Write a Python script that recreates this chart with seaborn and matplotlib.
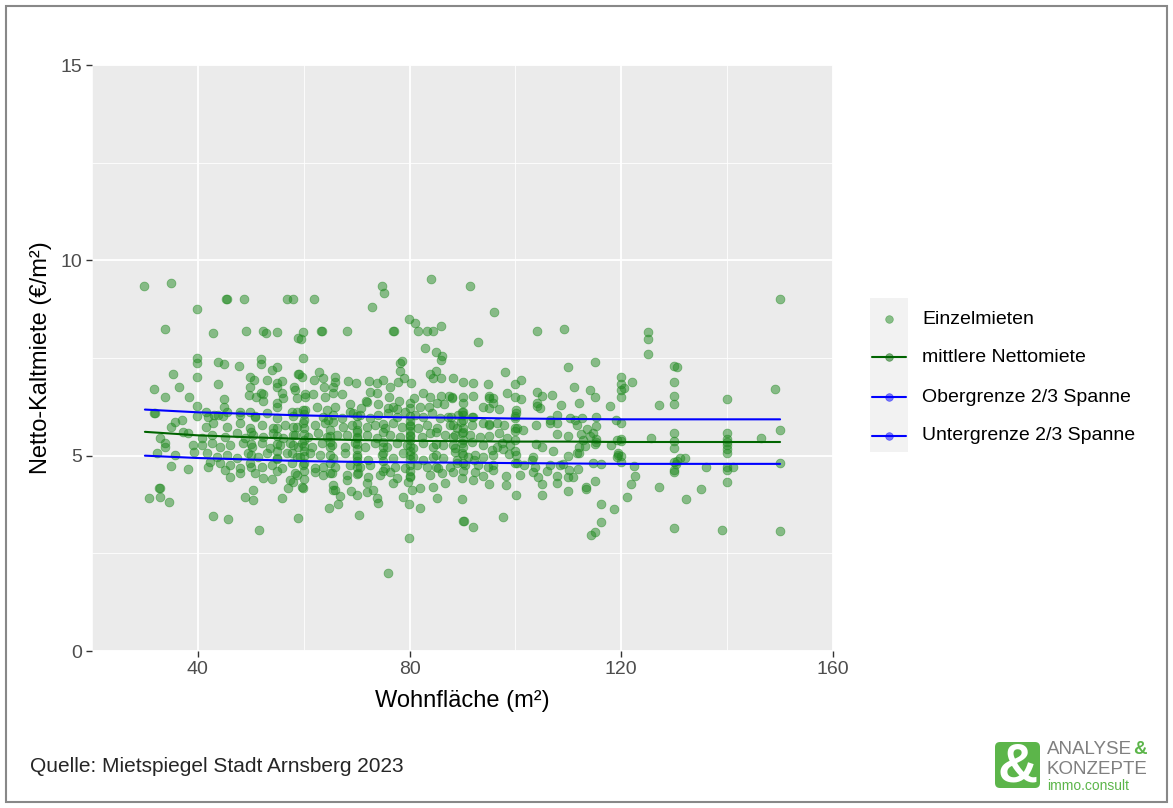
import numpy as np
import pandas as pd
import matplotlib
matplotlib.use("Agg")
import matplotlib.pyplot as plt
import seaborn as sns
from matplotlib.lines import Line2D
from matplotlib.patches import Rectangle, FancyBboxPatch

# --- Einzelmieten (Wohnflaeche in m², Netto-Kaltmiete in EUR/m²) ---
oben_x = [29.8, 34.9, 39.8, 33.8, 42.9, 45.3, 45.6, 48.7, 56.8, 58.0, 49.1, 52.3, 52.9, 55.0, 58.9,
          61.9, 74.8, 75.2, 84.0, 72.9, 59.9, 59.5, 63.3, 63.5, 68.2, 76.9, 77.0, 79.9, 81.0, 81.6,
          83.3, 84.4, 86.0, 82.9, 85.0, 86.1, 86.0, 59.9, 39.8, 39.8, 78.2, 78.6, 91.4, 95.9, 92.9,
          104.1, 109.2, 109.9, 115.0, 125.1, 125.1, 125.1, 130.0, 130.5, 150.0]
oben_y = [9.34, 9.42, 8.75, 8.24, 8.14, 9.0, 9.0, 9.0, 9.0, 9.0, 8.2, 8.2, 8.15, 8.17, 8.01,
          9.0, 9.34, 9.16, 9.52, 8.8, 8.17, 7.99, 8.2, 8.2, 8.2, 8.2, 8.2, 8.5, 8.4, 8.2,
          8.2, 8.2, 8.32, 7.76, 7.65, 7.55, 7.45, 7.5, 7.5, 7.37, 7.37, 7.42, 9.34, 8.68, 7.91,
          8.19, 8.24, 7.27, 7.40, 8.17, 7.99, 7.6, 7.29, 7.27, 9.0]

mitte_x = [43.8, 44.9, 47.8, 51.9, 51.9, 35.3, 39.8, 43.8, 49.9, 50.6, 53.1, 54.0, 55.0, 55.0, 55.9,
           58.2, 58.9, 31.7, 36.4, 33.8, 38.3, 49.9, 49.7, 51.0, 51.9, 52.3, 52.3, 55.0, 55.9, 56.1,
           58.7, 44.9, 39.8, 44.9, 55.0, 55.0, 31.7, 41.5, 48.0, 49.9, 43.1, 44.8, 50.8, 57.8, 59.1,
           59.7, 62.9, 65.9, 65.9, 61.9, 63.6, 68.4, 69.9, 72.3, 73.8, 75.0, 76.3, 77.8, 78.9, 80.3,
           58.4, 60.2, 61.8, 63.8, 64.0, 65.5, 65.5, 67.2, 60.2, 72.5, 73.8, 76.1, 71.8, 72.0, 74.0,
           76.9, 78.0, 80.8, 82.5, 83.9, 86.0, 87.4, 88.0, 86.5, 85.2, 82.0, 83.7, 62.5, 64.4, 65.9,
           68.7, 70.8, 75.9, 77.6, 59.9, 69.3, 83.9, 85.0, 84.4, 86.0, 78.2, 88.2, 90.1, 92.0, 94.8,
           98.0, 101.0, 100.0, 98.4, 100.0, 101.0, 95.0, 95.0, 95.8, 95.8, 93.9, 95.0, 96.9, 90.1, 90.1,
           90.1, 90.1, 92.0, 88.0, 92.0, 104.1, 105.0, 104.1, 104.1, 104.6, 106.9, 108.6, 111.1, 114.1, 115.0,
           112.0, 117.9, 120.0, 120.0, 120.0, 120.0, 120.6, 122.0, 127.1, 130.0, 130.0, 130.0, 140.0, 149.0]
mitte_y = [7.40, 7.35, 7.29, 7.47, 7.35, 7.09, 7.01, 6.83, 7.01, 6.94, 6.94, 7.19, 7.27, 6.86, 6.91,
           6.76, 7.09, 6.71, 6.76, 6.50, 6.50, 6.76, 6.55, 6.50, 6.60, 6.58, 6.40, 6.76, 6.60, 6.48,
           6.48, 6.45, 6.27, 6.25, 6.35, 6.25, 6.09, 6.12, 6.12, 6.12, 6.04, 6.01, 6.01, 6.12, 7.09,
           7.01, 7.14, 7.01, 6.89, 6.94, 6.99, 6.91, 6.86, 6.91, 6.86, 6.94, 6.76, 6.89, 6.99, 6.86,
           6.68, 6.58, 6.58, 6.76, 6.50, 6.76, 6.60, 6.58, 6.50, 6.63, 6.60, 6.50, 6.40, 6.37, 6.32,
           6.25, 6.40, 6.48, 6.60, 6.50, 6.53, 6.53, 6.48, 6.32, 6.35, 6.25, 6.25, 6.25, 6.17, 6.25,
           6.32, 6.22, 6.22, 6.19, 6.17, 6.09, 7.09, 7.17, 6.99, 6.99, 7.17, 6.99, 6.89, 6.86, 6.83,
           7.14, 6.94, 6.83, 6.60, 6.50, 6.45, 6.53, 6.48, 6.48, 6.35, 6.25, 6.22, 6.19, 6.50, 6.35,
           6.12, 6.04, 6.53, 6.50, 5.99, 6.63, 6.53, 6.35, 6.27, 6.22, 6.55, 6.30, 6.76, 6.68, 6.50,
           6.35, 6.27, 7.01, 6.83, 6.68, 6.50, 6.73, 6.88, 6.30, 6.88, 6.53, 6.32, 6.45, 6.71]

kern_links_x = [31.9, 39.8, 41.9, 43.8, 45.5, 48.0, 50.8, 53.1, 55.0, 58.0,
                35.7, 37.0, 34.9, 41.5, 42.9, 45.5, 48.0, 49.9, 52.1, 54.2, 56.5, 58.7,
                37.2, 38.1, 40.8, 42.7, 45.1, 47.4, 48.9, 50.4, 52.3, 54.2, 56.1, 58.0,
                32.8, 33.8, 39.1, 40.8, 42.7, 44.2, 46.1, 48.5, 50.2, 52.1, 53.6, 55.5, 57.4, 58.9,
                32.3, 33.8, 35.7, 39.3, 41.7, 43.6, 45.5, 47.4, 49.5, 51.4, 53.1, 55.0, 56.8, 58.7,
                34.9, 38.1, 41.9, 44.2, 46.1, 48.0, 49.9, 52.1, 54.0, 55.9, 57.8,
                45.1, 46.1, 48.0, 50.8, 52.3, 54.0, 57.4, 58.7, 42.3]
kern_links_y = [6.09, 6.01, 5.99, 6.04, 6.12, 6.04, 5.99, 6.09, 5.97, 6.01,
                5.86, 5.91, 5.73, 5.73, 5.84, 5.73, 5.84, 5.71, 5.78, 5.71, 5.78, 5.73,
                5.60, 5.58, 5.45, 5.53, 5.48, 5.58, 5.45, 5.53, 5.48, 5.58, 5.45, 5.53,
                5.45, 5.32, 5.27, 5.27, 5.32, 5.22, 5.27, 5.32, 5.22, 5.32, 5.20, 5.27, 5.32, 5.22,
                5.07, 5.22, 5.02, 5.09, 5.07, 4.97, 5.02, 4.94, 5.07, 4.97, 5.07, 4.94, 5.07, 4.97,
                4.74, 4.66, 4.71, 4.81, 4.76, 4.68, 4.81, 4.71, 4.76, 4.68, 4.81,
                4.63, 4.45, 4.56, 4.56, 4.43, 4.40, 4.38, 4.50, 4.84]

kern_mitte_x = [58.7, 60.2, 63.6, 64.6, 65.5, 67.2, 68.7, 70.6, 72.5, 74.0, 75.9, 77.6, 79.1, 81.0, 82.5, 84.2, 85.7, 87.2, 89.1,
                58.0, 59.9, 62.1, 64.0, 65.5, 67.4, 69.1, 70.1, 72.0, 73.5, 75.4, 76.9, 78.6, 80.1, 81.6, 83.3, 85.2, 87.6, 89.0,
                58.4, 60.8, 62.7, 64.4, 66.3, 68.2, 70.1, 72.0, 73.8, 76.3, 78.2, 80.1, 82.3, 83.9, 86.7, 88.2,
                58.0, 59.7, 61.6, 63.5, 65.3, 67.8, 69.7, 71.6, 73.5, 75.7, 77.6, 79.5, 80.6, 82.5, 84.4, 86.3, 88.6,
                57.8, 59.3, 61.2, 63.1, 65.5, 67.8, 70.1, 72.1, 74.8, 76.9, 78.8, 80.6, 82.5, 84.4, 86.3, 89.0,
                59.9, 62.1, 63.6, 65.9, 68.7, 70.6, 72.5, 75.4, 77.2, 79.1, 81.4, 83.3, 85.4, 87.6,
                58.4, 62.1, 63.6, 65.3, 68.2, 70.3, 72.1, 74.4, 76.3, 77.6, 80.1, 83.9, 86.1, 88.2,
                58.0, 59.7, 65.5, 65.9, 68.2, 72.0, 73.1, 76.9, 79.7, 80.5, 82.0, 84.4, 86.7]
kern_mitte_y = [6.12, 6.17, 5.99, 5.91, 6.04, 5.96, 6.12, 6.04, 5.96, 6.04, 6.09, 5.99, 6.12, 6.04, 5.99, 6.09, 5.96, 5.99, 6.04,
                5.73, 5.84, 5.78, 5.84, 5.86, 5.73, 5.78, 5.66, 5.73, 5.78, 5.71, 5.84, 5.73, 5.78, 5.71, 5.78, 5.71, 5.78, 5.71,
                5.53, 5.48, 5.58, 5.48, 5.53, 5.53, 5.48, 5.53, 5.45, 5.53, 5.48, 5.53, 5.48, 5.58, 5.53, 5.48,
                5.27, 5.32, 5.22, 5.32, 5.27, 5.22, 5.32, 5.22, 5.32, 5.22, 5.32, 5.27, 5.20, 5.32, 5.22, 5.27, 5.20,
                5.07, 4.97, 5.07, 5.02, 4.94, 5.07, 4.97, 4.89, 5.02, 4.94, 5.07, 4.97, 4.89, 4.97, 4.94, 4.89,
                4.76, 4.68, 4.71, 4.71, 4.76, 4.71, 4.76, 4.68, 4.71, 4.68, 4.76, 4.71, 4.68, 4.71,
                4.56, 4.58, 4.50, 4.56, 4.50, 4.56, 4.45, 4.50, 4.58, 4.43, 4.45, 4.50, 4.56, 4.58,
                4.33, 4.20, 4.25, 4.12, 4.38, 4.30, 4.12, 4.30, 4.33, 4.12, 4.17, 4.20, 4.30]

kern_rechts_x = [87.9, 89.9, 91.8, 89.7, 88.2, 90.1, 91.8, 93.9, 95.0, 95.0, 96.6,
                 88.6, 89.9, 91.4, 93.3, 95.0, 96.9, 88.2, 89.9, 91.8, 93.9, 95.6, 96.6,
                 88.6, 89.9, 91.0, 92.4, 93.9, 95.8, 89.0, 90.5, 92.2, 92.9, 94.8, 95.8,
                 89.9, 92.0, 92.4, 93.9, 95.8, 95.0,
                 98.2, 98.2, 100.9, 105.0, 104.3, 107.9, 107.9, 109.9, 110.9, 103.3, 106.0, 103.7, 103.1,
                 106.5, 108.4, 110.1, 111.8, 111.6, 109.9, 109.0, 107.1, 105.0, 103.9, 103.3, 101.6, 100.3,
                 100.1, 98.8, 97.7, 113.1, 115.0, 114.1, 114.6, 113.5, 115.2, 115.2, 115.2, 119.4, 112.4,
                 112.7, 112.0, 112.0, 109.9, 114.6, 116.2, 106.5, 107.9, 107.9, 106.5, 103.9, 107.9, 101.4,
                 99.9, 100.3, 99.9, 100.1, 100.1, 97.8, 97.5, 99.0, 98.4, 110.3, 111.3, 112.6, 115.2,
                 111.6, 119.2, 119.2, 119.0,
                 120.0, 125.6, 120.0, 120.0, 118.1, 119.4, 120.0, 120.0, 122.4, 130.0, 130.0, 130.0, 130.0,
                 130.4, 130.5, 131.1, 132.0, 130.0, 130.0, 136.0, 140.0, 140.0, 140.0, 140.0, 140.0, 140.0,
                 140.0, 140.0, 141.1, 146.4, 150.0, 150.0]
kern_rechts_y = [5.99, 6.12, 5.99, 5.86, 5.78, 5.71, 5.78, 5.84, 5.78, 5.80, 5.84,
                 5.53, 5.58, 5.53, 5.48, 5.50, 5.58, 5.27, 5.32, 5.35, 5.27, 5.14, 5.22,
                 5.09, 5.07, 4.97, 5.02, 4.97, 5.02, 4.81, 4.76, 4.89, 4.76, 4.71, 4.76,
                 4.43, 4.38, 4.58, 4.48, 4.63, 4.27,
                 4.48, 4.25, 4.50, 4.27, 4.45, 4.30, 4.48, 4.45, 4.45, 4.58, 4.61, 4.71, 4.89,
                 4.76, 4.76, 4.63, 4.66, 5.07, 4.99, 4.79, 5.12, 5.22, 5.30, 4.97, 4.76, 4.81,
                 5.02, 5.04, 5.17, 5.25, 5.30, 5.50, 5.58, 5.68, 5.76, 5.43, 5.35, 5.07, 5.55,
                 5.40, 5.22, 5.07, 5.50, 4.81, 4.79, 5.91, 6.04, 5.84, 5.84, 5.78, 5.55, 5.66,
                 5.63, 5.71, 5.96, 6.09, 6.17, 5.78, 5.32, 5.27, 5.45, 5.96, 5.91, 5.96, 5.99,
                 5.78, 4.97, 5.40, 5.91,
                 5.84, 5.45, 5.42, 5.37, 5.27, 5.02, 4.99, 4.84, 4.74, 5.58, 5.37, 5.20, 4.84,
                 4.79, 4.86, 4.94, 4.94, 4.63, 4.58, 4.71, 5.58, 5.42, 5.35, 5.27, 5.17, 5.07,
                 4.71, 4.63, 4.71, 5.45, 5.66, 4.81]

# Haeufungen bei runden Wohnflaechen (dunkle Spalten im Kern)
haeufung_x = [80.0] * 15 + [70.0] * 10 + [60.0] * 11 + [65.0] * 7 + [75.0] * 7 + [90.0] * 7 + [55.0] * 6 + [50.0] * 4 + [85.0] * 4 + [100.0] * 5
haeufung_y = [4.47, 4.62, 4.76, 4.91, 5.02, 5.11, 5.26, 5.41, 5.50, 5.62, 5.76, 5.90, 6.02, 6.21, 6.36,
              4.52, 4.71, 4.86, 5.01, 5.16, 5.31, 5.46, 5.61, 5.81, 6.01,
              4.41, 4.61, 4.81, 5.00, 5.12, 5.26, 5.41, 5.56, 5.71, 5.91, 6.06,
              4.56, 4.81, 5.01, 5.21, 5.36, 5.51, 5.66,
              4.61, 4.86, 5.06, 5.21, 5.36, 5.61, 5.81,
              4.61, 4.81, 5.01, 5.21, 5.41, 5.61, 5.91,
              4.61, 4.91, 5.11, 5.31, 5.51, 5.71,
              4.71, 5.01, 5.31, 5.61,
              4.71, 5.01, 5.31, 5.61,
              4.81, 5.11, 5.41, 5.71, 6.01]

unten_x = [57.0, 50.4, 50.4, 32.7, 32.8, 30.8, 32.8, 34.5, 42.9, 45.7, 51.6, 55.9, 48.9, 58.9,
           70.5, 79.9, 75.9, 64.8, 66.5, 69.0, 70.1, 66.9, 73.8, 74.0, 78.8, 79.9, 82.0, 85.2, 72.0,
           59.9, 65.5, 89.9, 90.1, 90.2, 92.0, 97.7, 100.1, 105.0, 109.9, 113.3, 113.3, 115.0, 116.2,
           118.6, 116.2, 115.0, 114.3, 121.8, 121.0, 127.1, 135.1, 132.3, 130.0, 139.0, 150.0, 140.0, 122.6]
unten_y = [4.17, 4.12, 3.86, 4.17, 4.18, 3.92, 3.94, 3.81, 3.46, 3.38, 3.10, 3.92, 3.94, 3.40,
           3.48, 2.89, 2.00, 3.66, 3.76, 4.10, 3.99, 3.97, 3.92, 3.79, 3.94, 3.76, 3.66, 3.92, 4.07,
           4.17, 4.12, 3.89, 3.33, 3.34, 3.17, 3.43, 3.99, 3.99, 4.10, 4.20, 4.15, 4.35, 3.76,
           3.63, 3.30, 3.05, 2.97, 4.27, 3.94, 4.20, 4.15, 3.89, 3.15, 3.10, 3.07, 4.33, 4.48]

# --- Kurven (Mittelwert und 2/3-Spanne) ---
kurve_x = [30, 40, 50, 60, 70, 80, 90, 100, 110, 120, 130, 140, 150]
mittel_y = [5.61, 5.52, 5.47, 5.43, 5.40, 5.38, 5.37, 5.36, 5.36, 5.35, 5.35, 5.35, 5.35]
ober_y = [6.18, 6.11, 6.07, 6.03, 6.00, 5.98, 5.97, 5.95, 5.94, 5.93, 5.93, 5.93, 5.93]
unter_y = [5.00, 4.94, 4.90, 4.86, 4.84, 4.83, 4.82, 4.81, 4.80, 4.79, 4.79, 4.79, 4.79]

punkte = pd.DataFrame({
    "flaeche": oben_x + mitte_x + kern_links_x + kern_mitte_x + kern_rechts_x + haeufung_x + unten_x,
    "miete": oben_y + mitte_y + kern_links_y + kern_mitte_y + kern_rechts_y + haeufung_y + unten_y,
})
kurven = pd.DataFrame({"flaeche": kurve_x, "mittel": mittel_y, "ober": ober_y, "unter": unter_y})

sns.set_theme(style="darkgrid", rc={"axes.facecolor": "#EBEBEB", "grid.color": "white"})
plt.rcParams["font.family"] = ["Liberation Sans", "DejaVu Sans"]

W, H = 1173, 808
fig = plt.figure(figsize=(W / 100, H / 100), dpi=100)
fig.patch.set_facecolor("white")
ax = fig.add_axes([92 / W, 1 - 651 / H, (833 - 92) / W, (651 - 65) / H])

sns.scatterplot(data=punkte, x="flaeche", y="miete", ax=ax, color="forestgreen", alpha=0.5,
                s=40, edgecolor="forestgreen", linewidth=0.6, legend=False, zorder=3)
sns.lineplot(data=kurven, x="flaeche", y="mittel", ax=ax, color="darkgreen", linewidth=1.5, zorder=4)
sns.lineplot(data=kurven, x="flaeche", y="ober", ax=ax, color="blue", linewidth=1.5, zorder=4)
sns.lineplot(data=kurven, x="flaeche", y="unter", ax=ax, color="blue", linewidth=1.5, zorder=4)

ax.set_xlim(20, 160)
ax.set_ylim(0, 15)
ax.set_xticks([40, 80, 120, 160])
ax.set_xticks([20, 60, 100, 140], minor=True)
ax.set_yticks([0, 5, 10, 15])
ax.set_yticks([2.5, 7.5, 12.5], minor=True)
ax.grid(which="major", color="white", linewidth=1.3)
ax.grid(which="minor", color="white", linewidth=0.6)
for sp in ax.spines.values():
    sp.set_visible(False)
ax.tick_params(axis="both", which="major", bottom=True, left=True, length=4, width=1, color="#333333",
               labelsize=14, labelcolor="#4D4D4D", pad=3)
ax.tick_params(axis="both", which="minor", length=0)
ax.set_xlabel("Wohnfläche (m²)", fontsize=17, color="black", labelpad=9)
ax.set_ylabel("Netto-Kaltmiete (€/m²)", fontsize=17, color="black", labelpad=6)


def fx(px):
    return px / W


def fy(py):
    return 1 - py / H


# Legende
fig.add_artist(Rectangle((fx(870), fy(452)), fx(38), (452 - 298) / H, transform=fig.transFigure,
                         facecolor="#F2F2F2", edgecolor="none"))
eintraege = [("Einzelmieten", "forestgreen", False, 319),
             ("mittlere Nettomiete", "darkgreen", True, 357),
             ("Obergrenze 2/3 Spanne", "blue", True, 397),
             ("Untergrenze 2/3 Spanne", "blue", True, 436)]
for text, farbe, mit_linie, py in eintraege:
    if mit_linie:
        fig.add_artist(Line2D([fx(872), fx(906)], [fy(py), fy(py)], transform=fig.transFigure,
                              color=farbe, linewidth=1.5))
    fig.add_artist(Line2D([fx(889)], [fy(py)], transform=fig.transFigure, marker="o", markersize=5.5,
                          color=farbe, alpha=0.5, markeredgewidth=0.5, linestyle="none"))
    fig.text(fx(922), fy(py), text, fontsize=14, va="center", ha="left", color="black")

# Quelle
fig.text(fx(30), fy(767), "Quelle: Mietspiegel Stadt Arnsberg 2023", fontsize=15, va="center", ha="left")

# Logo
logo = fig.add_axes([fx(995), fy(788), 45 / W, 46 / H])
logo.set_axis_off()
logo.set_xlim(0, 45)
logo.set_ylim(0, 46)
logo.add_patch(FancyBboxPatch((0, 0), 45, 46, boxstyle="round,pad=0,rounding_size=5",
                              facecolor="#5CB54A", edgecolor="none"))
logo.text(22.5, 21, "&", color="white", fontsize=40, fontweight="bold", ha="center", va="center")
fig.text(fx(1047), fy(749), "ANALYSE", fontsize=13.5, color="#808080", va="center", ha="left")
fig.text(fx(1133), fy(749), "&", fontsize=13.5, color="#5CB54A", va="center", ha="left", fontweight="bold")
fig.text(fx(1047), fy(769), "KONZEPTE", fontsize=13.5, color="#808080", va="center", ha="left")
fig.text(fx(1047), fy(786), "immo.consult", fontsize=10, color="#5CB54A", va="center", ha="left")

# Rahmen
fig.add_artist(Rectangle((fx(6), fy(802)), fx(1167 - 6), (802 - 6) / H, transform=fig.transFigure,
                         facecolor="none", edgecolor="#888888", linewidth=1.5))

fig.savefig("out.png", dpi=100)
